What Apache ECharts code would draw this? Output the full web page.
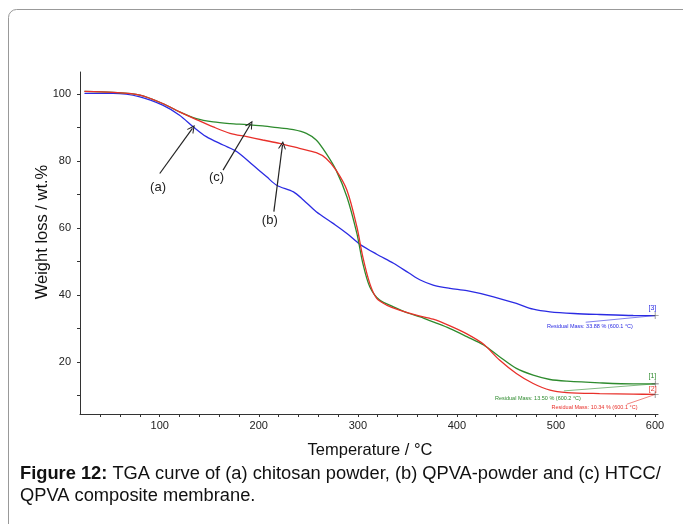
<!DOCTYPE html>
<html><head><meta charset="utf-8">
<script src="https://cdn.jsdelivr.net/npm/echarts@6/dist/echarts.min.js"></script>
<style>html,body{margin:0;padding:0;background:#fff}#c{width:683px;height:524px}</style>
</head><body><div id="c"></div>
<script>
// (a) chitosan powder - blue
const tA = [24,53,80,103,120,134,147,164,178,194,208,218,235,245,258,275,289,302,319,336,352,363,376,393,410,437,460,477,494,518,544,578,600];
const wA = [100.2,100.2,99.2,96.7,93.7,90.2,87.3,84.8,82.8,78.8,75.3,72.8,70.8,68.4,64.9,61.4,58.4,55.2,52.2,49.5,46.5,44.5,43,42,41.3,39.5,37.5,35.8,35,34.5,34.2,33.9,33.88];
// (b) QPVA powder - red
const tB = [24,53,80,103,120,137,154,171,188,204,221,241,258,268,278,289,299,305,312,319,329,342,359,376,393,410,427,443,460,477,494,511,544,578,600];
const wB = [100.8,100.5,99.7,97.2,94.7,92.4,90.2,88.3,87.3,86.3,85.3,83.8,82.5,80.8,77.3,71.3,60.4,51.4,43.5,39,37,35.5,34,32.8,30.8,28.4,25.3,20.6,16.6,13.6,11.6,10.9,10.6,10.45,10.34];
// (c) HTCC/QPVA membrane - green
const tC = [24,53,80,103,120,137,154,171,188,204,221,235,248,258,268,278,289,299,305,312,322,336,352,363,376,393,410,427,443,460,477,494,511,544,578,600];
const wC = [100.8,100.5,99.7,97.2,94.7,92.7,91.7,91.2,90.9,90.5,89.9,89.4,88.3,86.3,82.3,77.3,69.3,58.4,49.5,42.5,38.5,36.5,34.5,33.5,32,30,27.6,25.1,21.6,18.1,16.1,14.8,14.3,13.8,13.5,13.5];

const xLabels = [100,200,300,400,500,600];
const xTicks = [40,60,80,100,120,140,160,180,200,220,240,260,280,300,320,340,360,380,400,420,440,460,480,500,520,540,560,580,600];
const yLabels = [20,40,60,80,100];
const yTicks = [10,20,30,40,50,60,70,80,90,100];

// annotations (data coordinates)
const arrowA = [[100,76.3],[133,89.8]];
const arrowC = [[163.9,77.3],[191.6,91.0]];
const arrowB = [[215.2,64.9],[223.9,84.8]];
const lblA = [98.3,72.0], lblC = [157.3,75.1], lblB = [211.1,62.2];
const resA = {text:'Residual Mass: 33.88 % (600.1 °C)', at:[534.3,30.6], from:[530,31.9], end:[600.1,33.88], tag:'[3]', tagAt:[597.3,36.2]};
const resC = {text:'Residual Mass: 13.50 % (600.2 °C)', at:[481.8,9.25], from:[508,11.4], end:[600.2,13.5], tag:'[1]', tagAt:[597.3,15.8]};
const resB = {text:'Residual Mass: 10.34 % (600.1 °C)', at:[538.9,6.4], from:[571.4,7.4], end:[600.1,10.34], tag:'[2]', tagAt:[597.7,11.8]};

const pair = (t,w) => t.map((v,i)=>[v,w[i]]);
const arrowPath = 'path://M0,10L5,0L10,10L8.6,10L5,3L1.4,10Z';
const plusPath = 'path://M0,4.6H10V5.4H0Z M4.6,0H5.4V10H4.6Z';

function txtPoint(coord, text, color, size){
  return {coord, symbol:'circle', symbolSize:2, itemStyle:{color:'rgba(0,0,0,0)'},
    label:{show:true, position:'inside', formatter:text, color:color, fontSize:size,
      fontFamily:'Liberation Sans, Arial, sans-serif'}};
}

function mkSeries(name, data, color, res, extra){
  const mlData = [[{coord:res.from, lineStyle:{color, width:0.6}},{coord:res.end}]];
  const mpData = [
    {coord:res.end, symbol:plusPath, symbolSize:7, itemStyle:{color:'#555'}, label:{show:false}},
    txtPoint(res.at, res.text, color, 5.5),
    txtPoint(res.tagAt, res.tag, color, 7)
  ];
  if (extra) {
    extra.arrows.forEach(a=>mlData.push(a));
    extra.labels.forEach(l=>mpData.push(l));
  }
  return {
    name, type:'line', data, showSymbol:false, smooth:0.3, z:3,
    lineStyle:{color, width:1.3}, itemStyle:{color},
    markLine:{silent:true, symbol:['none','none'], animation:false, label:{show:false},
      lineStyle:{type:'solid'}, data:mlData},
    markPoint:{silent:true, animation:false, data:mpData}
  };
}

const arrowStyle = {lineStyle:{color:'#222', width:1.2, type:'solid'}};
function arrowItem(a){
  return [{coord:a[0], symbol:'none', ...arrowStyle},{coord:a[1], symbol:arrowPath, symbolSize:[8,8]}];
}

const chart = echarts.init(document.getElementById('c'), null, {renderer:'canvas'});
chart.setOption({
  animation:false,
  backgroundColor:'#fff',
  textStyle:{fontFamily:'Liberation Sans, Arial, sans-serif'},
  grid:{left:80, right:25, top:72, bottom:110, containLabel:false},
  xAxis:{type:'value', min:19.5, max:603,
    axisLine:{show:true, lineStyle:{color:'#333', width:1}},
    axisTick:{show:true, customValues:xTicks, length:3, lineStyle:{color:'#333'}},
    axisLabel:{customValues:xLabels, color:'#222', fontSize:11, margin:6},
    splitLine:{show:false}},
  yAxis:{type:'value', min:4.5, max:106.6,
    axisLine:{show:true, lineStyle:{color:'#333', width:1}},
    axisTick:{show:true, customValues:yTicks, length:3, lineStyle:{color:'#333'}},
    axisLabel:{customValues:yLabels, color:'#222', fontSize:11, margin:9},
    splitLine:{show:false}},
  series:[
    mkSeries('(a)', pair(tA,wA), '#2b2be3', resA, {
      arrows:[arrowItem(arrowA)],
      labels:[txtPoint(lblA,'(a)','#222',13)]}),
    mkSeries('(c)', pair(tC,wC), '#2e8b2e', resC, {
      arrows:[arrowItem(arrowC)],
      labels:[txtPoint(lblC,'(c)','#222',13)]}),
    mkSeries('(b)', pair(tB,wB), '#e8302a', resB, {
      arrows:[arrowItem(arrowB)],
      labels:[txtPoint(lblB,'(b)','#222',13)]})
  ],
  graphic:[
    {type:'rect', shape:{x:8.5, y:9.5, width:720, height:620, r:8}, style:{fill:'none', stroke:'#999', lineWidth:1}, silent:true, z:-1},
    {type:'text', x:42, y:232, rotation:Math.PI/2, style:{text:'Weight loss / wt.%', fill:'#111', font:'16.5px "Liberation Sans", Arial, sans-serif', align:'center', verticalAlign:'middle'}},
    {type:'text', x:370, y:450, style:{text:'Temperature / °C', fill:'#111', font:'16.5px "Liberation Sans", Arial, sans-serif', align:'center', verticalAlign:'middle'}},
    {type:'text', x:20, y:485, style:{
      text:'{b|Figure 12:} TGA curve of (a) chitosan powder, (b) QPVA-powder and (c) HTCC/\nQPVA composite membrane.',
      rich:{b:{font:'bold 18.3px "Liberation Sans", Arial, sans-serif', fill:'#111'}},
      font:'18.3px "Liberation Sans", Arial, sans-serif', fill:'#111', lineHeight:22, verticalAlign:'middle'}}
  ]
});
</script></body></html>
